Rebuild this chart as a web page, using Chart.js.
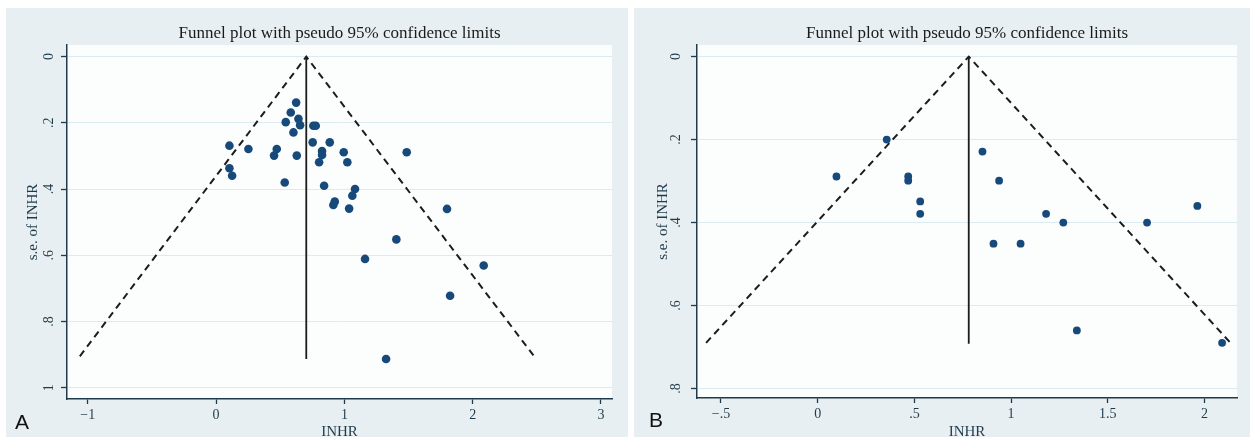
<!DOCTYPE html>
<html>
<head>
<meta charset="utf-8">
<script src="https://cdn.jsdelivr.net/npm/chart.js@4.4.1/dist/chart.umd.min.js"></script>
<style>
  html, body { margin: 0; padding: 0; background: #fff; overflow: hidden; }
  .panel { position: absolute; top: 8px; height: 432px; background: #e8eff2; }
  #panelA { left: 6px; width: 622px; }
  #panelB { left: 634px; width: 616px; }
  .tag { position: absolute; font-family: "Liberation Sans", Arial, sans-serif; font-size: 21px; color: #111; line-height: 21px; }
</style>
</head>
<body>
<div class="panel" id="panelA"><canvas id="chartA" width="622" height="432"></canvas></div>
<div class="panel" id="panelB"><canvas id="chartB" width="616" height="432"></canvas></div>
<div class="tag" style="left:15px; top:411px;">A</div>
<div class="tag" style="left:649px; top:409px;">B</div>
<script>
"use strict";

// Panel A: studies (lnHR, s.e.)
const aLnHR = [0.624, 0.582, 0.543, 0.642, 0.655, 0.603, 0.758, 0.777, 0.753, 0.886,
               0.104, 0.252, 0.473, 0.452, 0.629, 0.826, 0.826, 0.803, 0.995, 1.023,
               1.486, 0.104, 0.125, 0.535, 0.842, 1.083, 1.062, 0.925, 0.914, 1.037,
               1.80, 1.405, 1.161, 2.086, 1.824, 1.325];
const aSE = [0.139, 0.169, 0.198, 0.188, 0.207, 0.229, 0.209, 0.209, 0.259, 0.259,
             0.269, 0.279, 0.279, 0.299, 0.299, 0.285, 0.297, 0.319, 0.289, 0.319,
             0.289, 0.337, 0.360, 0.380, 0.390, 0.400, 0.420, 0.438, 0.448, 0.459,
             0.460, 0.552, 0.611, 0.631, 0.722, 0.913];
// funnel limits + pooled estimate line
const aFunnelX = [-1.062, 0.703, 2.479];
const aFunnelY = [0.905, 0, 0.905];
const aPooledX = [0.703, 0.703];
const aPooledY = [0, 0.913];
const aTicksX = [-1, 0, 1, 2, 3];
const aTicksY = [0, 0.2, 0.4, 0.6, 0.8, 1];

// Panel B
const bLnHR = [0.357, 0.097, 0.468, 0.468, 0.530, 0.530, 0.852, 0.938, 1.181, 1.270,
               0.909, 1.049, 1.340, 1.703, 1.963, 2.091];
const bSE = [0.200, 0.289, 0.289, 0.299, 0.349, 0.379, 0.229, 0.299, 0.379, 0.400,
             0.451, 0.451, 0.660, 0.400, 0.360, 0.690];
const bFunnelX = [-0.577, 0.781, 2.138];
const bFunnelY = [0.690, 0, 0.692];
const bPooledX = [0.781, 0.781];
const bPooledY = [0, 0.692];
const bTicksX = [-0.5, 0, 0.5, 1, 1.5, 2];
const bTicksY = [0, 0.2, 0.4, 0.6, 0.8];

const TITLE = 'Funnel plot with pseudo 95% confidence limits';
const SERIF = '"Liberation Serif", "Times New Roman", serif';
const INK = '#1f3b4b';
const DOT = '#17497b';

// Stata style labels: .2, −.5, −1
function stataLabel(v) {
    let s = Math.abs(v).toString();
    if (s.startsWith('0.')) s = s.slice(1);
    return (v < 0 ? '\u2212' : '') + s;
}

function pairs(xs, ys) {
    return xs.map((x, i) => ({ x: x, y: ys[i] }));
}

// white plot region
const plotBg = {
    id: 'plotBg',
    beforeDraw(chart) {
        const { ctx, chartArea: a } = chart;
        ctx.save();
        ctx.fillStyle = '#fcfdfd';
        ctx.fillRect(a.left, a.top, a.right - a.left, a.bottom - a.top);
        ctx.restore();
    }
};

function funnelChart(id, cfg) {
    const ctx = document.getElementById(id).getContext('2d');
    return new Chart(ctx, {
        type: 'scatter',
        data: {
            datasets: [{
                data: pairs(cfg.xs, cfg.ys),
                backgroundColor: DOT,
                borderColor: DOT,
                pointRadius: cfg.dot,
                pointBorderWidth: 0
            }, {
                data: pairs(cfg.funnelX, cfg.funnelY),
                showLine: true,
                borderColor: '#1c1c1c',
                borderWidth: 2,
                borderDash: [7, 5],
                pointRadius: 0
            }, {
                data: pairs(cfg.pooledX, cfg.pooledY),
                showLine: true,
                borderColor: '#1c1c1c',
                borderWidth: 1.8,
                pointRadius: 0
            }]
        },
        options: {
            responsive: false,
            animation: false,
            devicePixelRatio: 1,
            layout: { padding: { left: 0, right: cfg.padRight, top: 0, bottom: 0 } },
            plugins: {
                legend: { display: false },
                tooltip: { enabled: false },
                title: {
                    display: true,
                    text: TITLE,
                    fullSize: false,
                    color: '#1a1a1a',
                    font: { family: SERIF, size: 17, weight: 'normal' },
                    padding: { top: 15, bottom: 1.6 }
                }
            },
            scales: {
                x: {
                    type: 'linear',
                    min: cfg.xMin,
                    max: cfg.xMax,
                    afterBuildTicks: (s) => { s.ticks = cfg.ticksX.map(v => ({ value: v })); },
                    afterFit: (s) => { s.height = cfg.xAxisH; },
                    grid: { drawOnChartArea: false, tickColor: INK, tickLength: 5, tickWidth: 1.3 },
                    border: { display: true, color: INK, width: 1.5 },
                    ticks: {
                        color: INK, padding: 3, maxRotation: 0,
                        font: { family: SERIF, size: 14 },
                        callback: stataLabel
                    },
                    title: {
                        display: true, text: 'INHR', color: INK,
                        font: { family: SERIF, size: 15 },
                        padding: { top: 0, bottom: -1 }
                    }
                },
                y: {
                    type: 'linear',
                    reverse: true,
                    min: cfg.yMin,
                    max: cfg.yMax,
                    afterBuildTicks: (s) => { s.ticks = cfg.ticksY.map(v => ({ value: v })); },
                    afterFit: (s) => { s.width = cfg.yAxisW; },
                    grid: { color: '#dcebf2', lineWidth: 1, tickColor: INK, tickLength: 6, tickWidth: 1.3 },
                    border: { display: true, color: INK, width: 1.5 },
                    ticks: {
                        color: INK, padding: cfg.yTickPad,
                        minRotation: 90, maxRotation: 90,
                        crossAlign: 'center',
                        font: { family: SERIF, size: 14 },
                        callback: stataLabel
                    },
                    title: {
                        display: true, text: 's.e. of INHR', color: INK,
                        font: { family: SERIF, size: 15 },
                        padding: { top: cfg.yTitlePad, bottom: 0 }
                    }
                }
            }
        },
        plugins: [plotBg]
    });
}

funnelChart('chartA', {
    xs: aLnHR, ys: aSE, funnelX: aFunnelX, funnelY: aFunnelY,
    pooledX: aPooledX, pooledY: aPooledY, ticksX: aTicksX, ticksY: aTicksY,
    xMin: -1.162, xMax: 3.086, yMin: -0.035, yMax: 1.034,
    dot: 4.3, padRight: 16, xAxisH: 41, yAxisW: 61, yTickPad: 6, yTitlePad: 18
});

funnelChart('chartB', {
    xs: bLnHR, ys: bSE, funnelX: bFunnelX, funnelY: bFunnelY,
    pooledX: bPooledX, pooledY: bPooledY, ticksX: bTicksX, ticksY: bTicksY,
    xMin: -0.624, xMax: 2.168, yMin: -0.028, yMax: 0.823,
    dot: 3.9, padRight: 13, xAxisH: 42, yAxisW: 63, yTickPad: 9, yTitlePad: 20
});
</script>
</body>
</html>
